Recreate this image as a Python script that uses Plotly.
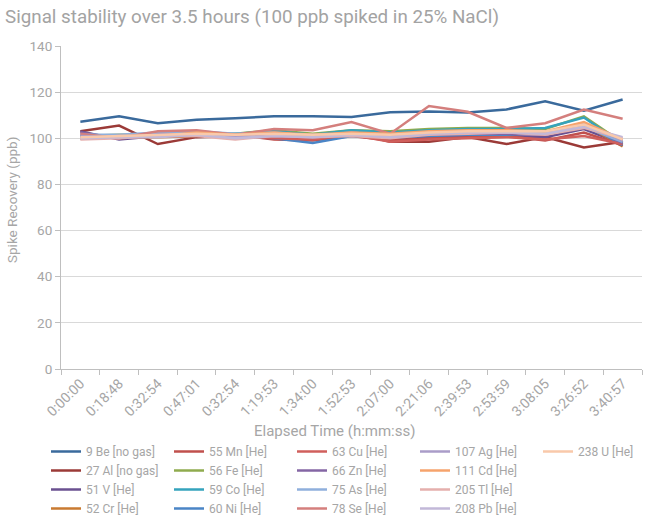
import plotly.graph_objects as go

time_labels = ["0:00:00", "0:18:48", "0:32:54", "0:47:01", "0:32:54", "1:19:53", "1:34:00",
               "1:52:53", "2:07:00", "2:21:06", "2:39:53", "2:53:59", "3:08:05", "3:26:52", "3:40:57"]

be9 = [107.2, 109.5, 106.5, 108.0, 108.7, 109.5, 109.5, 109.2, 111.3, 111.6, 111.2, 112.5, 116.0, 112.0, 116.8]
al27 = [103.0, 105.5, 97.5, 100.5, 101.0, 100.0, 99.5, 102.5, 98.5, 98.5, 100.5, 97.5, 100.5, 96.0, 98.5]
v51 = [103.0, 99.5, 101.0, 101.0, 101.0, 100.5, 100.0, 101.5, 99.5, 100.5, 101.0, 101.0, 100.5, 104.0, 97.5]
cr52 = [100.0, 100.5, 100.5, 101.0, 101.5, 101.5, 101.0, 102.5, 101.5, 102.0, 103.0, 103.0, 102.5, 106.0, 96.5]
mn55 = [101.0, 100.0, 101.0, 101.0, 101.5, 99.5, 99.0, 101.0, 99.0, 100.0, 100.5, 101.0, 99.0, 102.5, 97.0]
fe56 = [101.0, 101.5, 101.5, 102.0, 102.0, 103.5, 102.0, 103.5, 103.0, 104.0, 104.5, 104.5, 104.0, 109.5, 98.0]
co59 = [101.0, 101.0, 101.5, 102.0, 102.0, 103.0, 101.5, 103.5, 102.5, 103.5, 104.0, 104.0, 104.5, 109.0, 97.5]
ni60 = [100.5, 100.5, 101.0, 101.5, 101.0, 100.0, 98.0, 101.0, 100.5, 101.0, 101.5, 101.5, 102.5, 106.5, 97.0]
cu63 = [100.0, 100.5, 102.0, 102.5, 101.0, 100.0, 99.5, 101.5, 98.5, 99.5, 100.0, 100.5, 99.5, 101.0, 97.5]
zn66 = [102.5, 100.0, 102.5, 102.0, 101.0, 102.0, 100.5, 102.5, 100.5, 101.5, 102.0, 102.0, 101.5, 105.5, 98.0]
as75 = [101.5, 101.5, 102.5, 103.0, 102.0, 102.5, 101.0, 102.5, 101.0, 102.0, 102.5, 102.5, 102.0, 105.0, 98.5]
se78 = [102.0, 100.0, 103.0, 103.5, 101.5, 104.0, 103.5, 107.0, 102.0, 114.0, 111.5, 104.5, 106.5, 112.5, 108.5]
ag107 = [101.0, 100.5, 101.5, 102.0, 100.5, 101.5, 101.0, 101.5, 101.0, 102.0, 102.5, 102.5, 102.0, 106.5, 99.0]
cd111 = [100.0, 101.0, 101.0, 102.5, 101.5, 102.5, 101.5, 102.5, 102.0, 103.0, 103.5, 103.5, 103.0, 107.0, 99.5]
tl205 = [99.5, 100.0, 101.0, 101.0, 99.5, 101.0, 100.5, 101.0, 100.0, 101.5, 102.0, 102.5, 101.5, 104.5, 100.0]
pb208 = [100.0, 100.5, 100.5, 101.5, 100.0, 101.0, 100.5, 101.5, 100.5, 102.0, 102.5, 102.5, 102.0, 105.0, 100.5]
u238 = [100.5, 101.0, 101.5, 102.0, 101.5, 102.0, 101.5, 102.0, 101.5, 102.5, 103.0, 103.0, 103.0, 106.0, 99.5]

series = [
    ("9 Be [no gas]", be9, "#3a6a9c", 1),
    ("27 Al [no gas]", al27, "#9b3a37", 1),
    ("51 V [He]", v51, "#6a5090", 1),
    ("52 Cr [He]", cr52, "#c97a30", 1),
    ("55 Mn [He]", mn55, "#c0504d", 2),
    ("56 Fe [He]", fe56, "#8fab4e", 2),
    ("59 Co [He]", co59, "#35a3bd", 2),
    ("60 Ni [He]", ni60, "#4a85c6", 2),
    ("63 Cu [He]", cu63, "#d05f5c", 3),
    ("66 Zn [He]", zn66, "#8466a4", 3),
    ("75 As [He]", as75, "#8fafdc", 3),
    ("78 Se [He]", se78, "#d47f7d", 3),
    ("107 Ag [He]", ag107, "#aa9cc8", 4),
    ("111 Cd [He]", cd111, "#f6a36c", 4),
    ("205 Tl [He]", tl205, "#e5afad", 4),
    ("208 Pb [He]", pb208, "#c2b8d8", 4),
    ("238 U [He]", u238, "#f9c9aa", 5),
]

x_idx = list(range(len(time_labels)))

fig = go.Figure()
for name, vals, color, leg in series:
    fig.add_trace(go.Scatter(
        x=x_idx, y=vals, mode="lines", name=name,
        line=dict(color=color, width=2.5),
        legend="legend" if leg == 1 else f"legend{leg}",
    ))

grey = "#a6a6a6"
# plot area in pixels: x 61..642, y 46..369
L, R, T, B = 61, 642, 46, 369
W, H = R - L, B - T

legend_px = [46, 169, 292, 415, 538]
leg_common = dict(
    orientation="v", yanchor="top", y=1 - 437 / 517, yref="container",
    xanchor="left", xref="container",
    font=dict(family="Roboto", size=12, color=grey),
    bgcolor="rgba(0,0,0,0)", itemwidth=30, tracegroupgap=0,
)
layout_legends = {}
for i, px in enumerate(legend_px):
    key = "legend" if i == 0 else f"legend{i+1}"
    layout_legends[key] = dict(leg_common, x=px / 649)

fig.update_layout(
    width=649, height=517,
    margin=dict(l=L, r=649 - R, t=T, b=517 - B, autoexpand=False),
    paper_bgcolor="white", plot_bgcolor="white",
    font=dict(family="Roboto", color=grey),
    title=dict(text="Signal stability over 3.5 hours (100 ppb spiked in 25% NaCl)",
               x=5 / 649, xanchor="left", xref="container",
               y=1 - 16 / 517, yanchor="middle", yref="container",
               font=dict(family="Roboto", size=18.8, color="#a3a3a3")),
    showlegend=True,
    annotations=[
        dict(text="Spike Recovery (ppb)", textangle=-90, showarrow=False,
             xref="paper", yref="paper", x=(12 - L) / W, y=(B - 200) / H,
             xanchor="center", yanchor="middle",
             font=dict(family="Roboto", size=13.5, color=grey)),
        dict(text="Elapsed Time (h:mm:ss)", showarrow=False,
             xref="paper", yref="paper", x=(334 - L) / W, y=(B - 431) / H,
             xanchor="center", yanchor="middle",
             font=dict(family="Roboto", size=15, color=grey)),
    ],
    **layout_legends,
)

fig.update_xaxes(
    range=[-0.5, 14.5], tickmode="array", tickvals=x_idx, ticktext=time_labels,
    tickangle=-45, ticks="", showgrid=False, zeroline=False, automargin=False,
    showline=True, linecolor="#bfbfbf", linewidth=1,
    tickfont=dict(family="Roboto", size=14, color=grey),
    minor=dict(tick0=-0.5, dtick=1, ticks="outside", ticklen=5, tickcolor="#bfbfbf", showgrid=False),
)
fig.update_yaxes(
    range=[0, 140], dtick=20, showgrid=True, gridcolor="#d9d9d9", gridwidth=1,
    zeroline=False, showline=True, linecolor="#bfbfbf", linewidth=1, automargin=False,
    ticks="outside", ticklen=5, tickcolor="#bfbfbf",
    tickfont=dict(family="Roboto", size=13.5, color=grey),
)

fig.write_html("out.html", config={"displayModeBar": False},
               post_script="document.body.style.margin='0px';")
